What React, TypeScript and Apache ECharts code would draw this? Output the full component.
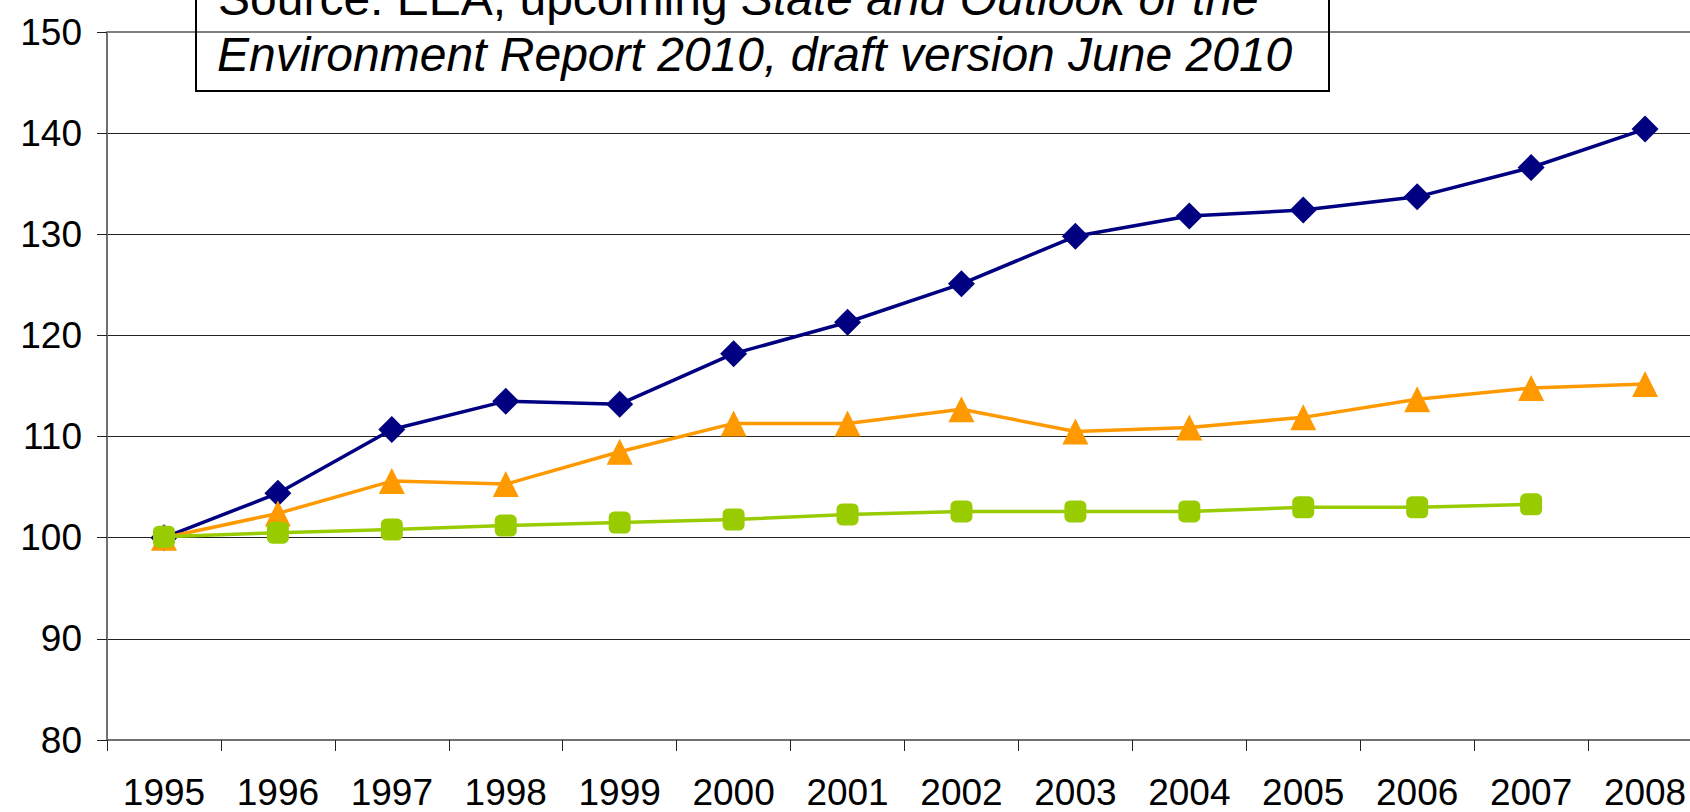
import React, { useEffect, useRef } from "react";
import * as echarts from "echarts";

const years = ["1995", "1996", "1997", "1998", "1999", "2000", "2001", "2002", "2003", "2004", "2005", "2006", "2007", "2008"];
const navySeries = [100, 104.4, 110.7, 113.5, 113.2, 118.2, 121.3, 125.1, 129.8, 131.8, 132.4, 133.7, 136.6, 140.4];
const orangeSeries = [100, 102.4, 105.6, 105.3, 108.5, 111.3, 111.3, 112.7, 110.5, 110.9, 111.9, 113.7, 114.8, 115.2];
const greenSeries = [100.1, 100.5, 100.8, 101.2, 101.5, 101.8, 102.3, 102.6, 102.6, 102.6, 103.0, 103.0, 103.3];
const yMin = 80;
const yMax = 150;
const yStep = 10;
const sourceLine1Normal = "Source: EEA, upcoming ";
const sourceLine1Italic = "State and Outlook of the";
const sourceLine2 = "Environment Report 2010, draft version June 2010";

const FONT = "'Liberation Sans', Arial, sans-serif";

export default function App() {
  const ref = useRef<HTMLDivElement>(null);
  useEffect(() => {
    document.body.style.margin = "0";
    const chart = echarts.init(ref.current!, null, { renderer: "svg" });
    chart.setOption({
      animation: false,
      backgroundColor: "#fff",
      grid: { left: 107, width: 1595, top: 32, bottom: 72, containLabel: false, outerBoundsMode: "none" },
      xAxis: [
        {
          type: "category",
          data: years,
          boundaryGap: true,
          axisLine: { show: true, lineStyle: { color: "#707070", width: 2 } },
          axisTick: { show: true, length: 11, lineStyle: { color: "#222", width: 1 } },
          axisLabel: { margin: 37, fontSize: 37, lineHeight: 30, color: "#000", fontFamily: FONT },
          splitLine: { show: false },
        },
        {
          type: "category",
          data: years,
          position: "top",
          axisLine: { show: true, lineStyle: { color: "#808080", width: 2 } },
          axisTick: { show: false },
          axisLabel: { show: false },
          splitLine: { show: false },
        },
      ],
      yAxis: {
        type: "value",
        min: yMin,
        max: yMax,
        interval: yStep,
        axisLine: { show: true, lineStyle: { color: "#707070", width: 2 } },
        axisTick: { show: true, length: 10, lineStyle: { color: "#222", width: 1 } },
        axisLabel: { margin: 25, fontSize: 37, color: "#000", fontFamily: FONT },
        splitLine: { show: true, lineStyle: { color: "#222", width: 1 } },
      },
      series: [
        {
          type: "line",
          data: navySeries,
          symbol: "diamond",
          symbolSize: 27,
          lineStyle: { color: "#000080", width: 3.5 },
          itemStyle: { color: "#000080" },
          z: 3,
        },
        {
          type: "line",
          data: orangeSeries,
          symbol: "triangle",
          symbolSize: 26,
          lineStyle: { color: "#FF9900", width: 3.5 },
          itemStyle: { color: "#FF9900" },
          z: 4,
        },
        {
          type: "line",
          data: greenSeries,
          symbol: "roundRect",
          symbolSize: 22,
          lineStyle: { color: "#99CC00", width: 3.5 },
          itemStyle: { color: "#99CC00" },
          z: 5,
        },
      ],
      graphic: [
        {
          type: "rect",
          shape: { x: 196, y: -20, width: 1133, height: 111 },
          style: { fill: "transparent", stroke: "#000", lineWidth: 2 },
          z: 10,
        },
        {
          type: "text",
          x: 218,
          y: -2,
          style: {
            text: "{n|" + sourceLine1Normal + "}{i|" + sourceLine1Italic + "}",
            fill: "#000",
            fontSize: 48,
            fontFamily: FONT,
            verticalAlign: "middle",
            rich: {
              n: { fontSize: 48, fontFamily: FONT, fontStyle: "normal", fill: "#000" },
              i: { fontSize: 48, fontFamily: FONT, fontStyle: "italic", fill: "#000" },
            },
          },
          z: 10,
        },
        {
          type: "text",
          x: 217,
          y: 54.5,
          style: {
            text: sourceLine2,
            fill: "#000",
            fontSize: 48,
            fontStyle: "italic",
            fontFamily: FONT,
            verticalAlign: "middle",
          },
          z: 10,
        },
      ],
    });
    return () => chart.dispose();
  }, []);
  return <div ref={ref} style={{ width: 1690, height: 812 }} />;
}
